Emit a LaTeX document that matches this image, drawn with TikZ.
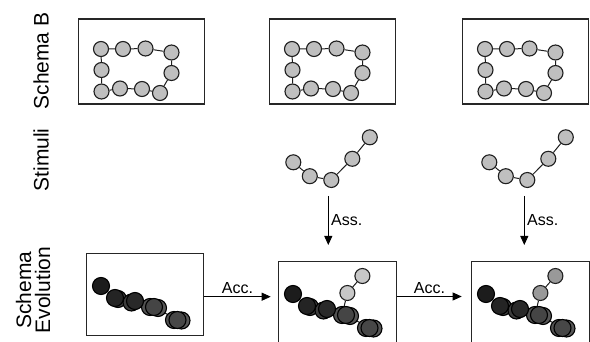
\documentclass[tikz,border=0pt]{standalone}
\usepackage{fontspec}
\setmainfont{Liberation Sans}
\usetikzlibrary{arrows.meta,backgrounds}
\begin{document}
\begin{tikzpicture}[
  x=1pt, y=-1pt,
  frame/.style={draw=black!85, line width=1.1pt, inner sep=0pt, anchor=north west},
  bead/.style={circle, draw=black!88, line width=1.1pt, fill=black!25,
    inner sep=0pt, minimum size=15pt},
  dbead/.style={bead, minimum size=17pt, draw=black},
  link/.style={draw=black!88, line width=1pt},
  flow/.style={draw=black, line width=0.8pt, -{Triangle[length=9pt,width=8pt]}},
  title/.style={rotate=90, align=center, font=\fontsize{21}{19}\selectfont},
  tag/.style={font=\fontsize{16}{16}\selectfont, inner sep=2.5pt}
]
    \path[use as bounding box, clip] (0,0) rectangle (590,342);
    \node[title] (tsb) at (41,61) {Schema B};
    \node[title] (tst) at (41,160) {Stimuli};
    \node[title] (tev) at (33,290) {Schema\\Evolution};
    \foreach \k/\bx in {1/78,2/269,3/462}{
        \node[frame, minimum width=126pt, minimum height=85pt] (sb\k) at (\bx,18.5) {};
        \foreach \n/\dx/\dy in {1/23/30, 2/45/30, 3/67.5/29.5, 4/93.5/33.5, 5/93.5/54,
          6/82/74, 7/64/70, 8/42/69.5, 9/23.5/72.5, 10/23.5/51}
            \node[bead] (sb\k-\n) at (\bx+\dx,19+\dy) {};
        \begin{scope}[on background layer]
            \path[link] (sb\k-1)--(sb\k-2)--(sb\k-3)--(sb\k-4)--(sb\k-5)--(sb\k-6)
              --(sb\k-7)--(sb\k-8)--(sb\k-9)--(sb\k-10)--(sb\k-1);
        \end{scope}
    }
    \foreach \k/\ax in {2/328.3,3/524.3}{
        \foreach \n/\dx/\dy in {1/-35/162.3, 2/-18.5/176.2, 3/3/180, 4/24/158.8, 5/41.5/137.3}
            \node[bead] (st\k-\n) at (\ax+\dx,\dy) {};
        \begin{scope}[on background layer]
            \path[link] (st\k-1)--(st\k-2)--(st\k-3)--(st\k-4)--(st\k-5);
        \end{scope}
        \coordinate (as\k) at (\ax,196);
        \coordinate (ae\k) at (\ax,245);
        \draw[flow] (as\k) -- (ae\k) node[midway, right, tag] {Ass.};
    }
    \node[frame, minimum width=117pt, minimum height=82pt] (ev1) at (86,253) {};
    \node[frame, minimum width=118pt, minimum height=95pt] (ev2) at (278,261) {};
    \node[frame, minimum width=118pt, minimum height=95pt] (ev3) at (471,261) {};
    \foreach \k/\bx/\by in {1/86/253,2/278/261,3/471/261}{
        \foreach \m/\dx/\dy/\s in {2/32/46/75, 3/45.5/49.5/76, 4l/64/54/68, 4r/72/55/66,
          5l/88/67/68, 5r/95.5/67.5/66}
            \node[dbead, fill=black!\s] (ev\k-g\m) at (\bx+\dx,\by+\dy) {};
        \foreach \n/\dx/\dy/\s in {1/15/33/89, 2/29/45/86, 3/49/48/84, 4/68/54/73, 5/91.5/67/72}
            \node[dbead, fill=black!\s] (ev\k-\n) at (\bx+\dx,\by+\dy) {};
        \begin{scope}[on background layer]
            \path[link] (ev\k-1)--(ev\k-2)--(ev\k-3)--(ev\k-4)--(ev\k-5);
        \end{scope}
    }
    \foreach \k/\bx/\lt in {2/278/22,3/471/40}{
        \node[bead, fill=black!\lt] (ev\k-6) at (\bx+69.4,293) {};
        \node[bead, fill=black!\lt] (ev\k-7) at (\bx+84.4,276) {};
        \begin{scope}[on background layer]
            \path[link] (ev\k-g4l)--(ev\k-6)--(ev\k-7);
        \end{scope}
    }
    \coordinate (ac1) at (270.7,296.7);
    \coordinate (ac2) at (461.7,296.5);
    \draw[flow] (ev1.east |- ac1) -- (ac1) node[midway, above, tag] {Acc.};
    \draw[flow] (ev2.east |- ac2) -- (ac2) node[midway, above, tag] {Acc.};
\end{tikzpicture}
\end{document}
